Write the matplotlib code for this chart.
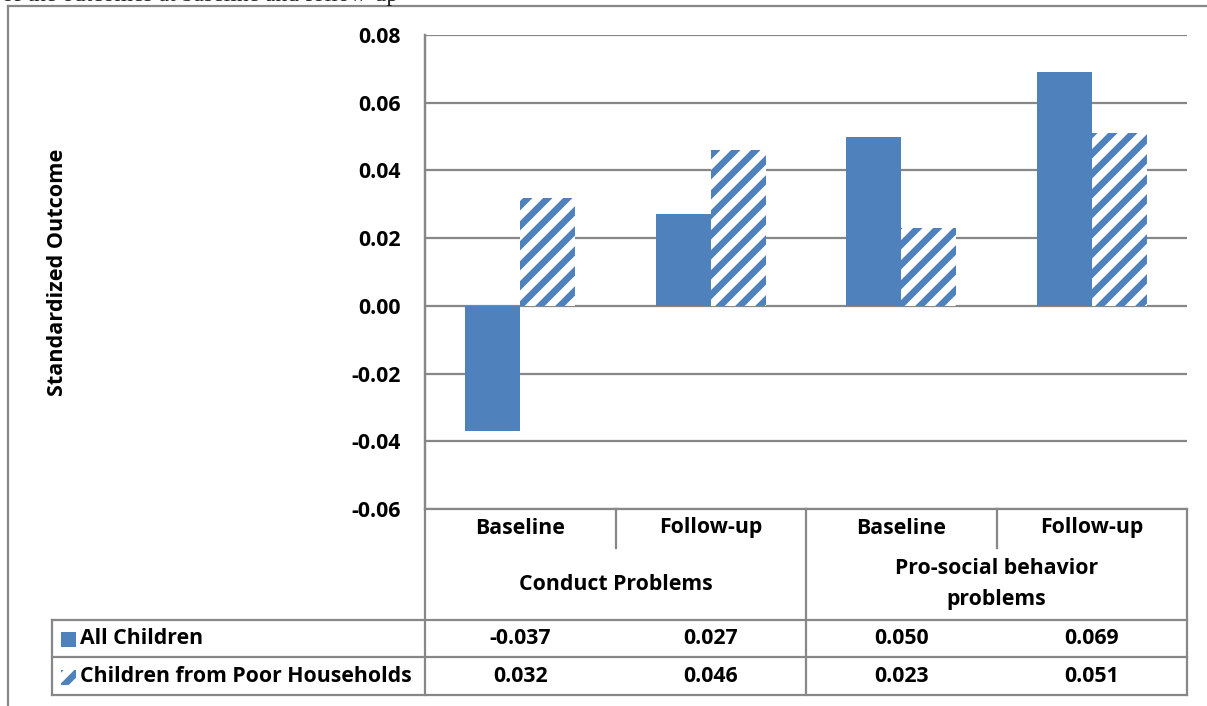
import matplotlib
matplotlib.use("Agg")
import matplotlib.pyplot as plt
from matplotlib.lines import Line2D
from matplotlib.patches import Rectangle
from matplotlib.collections import LineCollection
from matplotlib.transforms import blended_transform_factory, IdentityTransform
import numpy as np

# ---- data ----
periods = ["Baseline", "Follow-up", "Baseline", "Follow-up"]
outcome_groups = ["Conduct Problems", "Pro-social behavior\nproblems"]
series_names = ["All Children", "Children from Poor Households"]
all_children = [-0.037, 0.027, 0.050, 0.069]
poor_households = [0.032, 0.046, 0.023, 0.051]
y_ticks = [-0.06, -0.04, -0.02, 0.00, 0.02, 0.04, 0.06, 0.08]

BLUE = "#4F81BD"
GRID = "#878787"
W, H = 1207, 706

plt.rcParams["font.family"] = ["Open Sans", "DejaVu Sans"]
plt.rcParams["font.weight"] = "bold"

fig = plt.figure(figsize=(W / 100, H / 100), dpi=100)


def fx(px):
    return px / W


def fy(py):
    return 1 - py / H


def stripe(patch, parent, period=20.0, lw=4.8, phase=0.0):
    """Diagonal '/' stripes drawn inside a patch, in screen pixels."""
    bb = patch.get_window_extent(renderer=None)
    x0, y0, x1, y1 = bb.x0, bb.y0, bb.x1, bb.y1
    h = y1 - y0
    start = x0 - h - ((x0 - h - phase) % period)
    segs = []
    c = start
    while c <= x1 + period:
        segs.append([(c - lw, y0 - lw), (c + h + lw, y1 + lw)])
        c += period
    lc = LineCollection(segs, colors=BLUE, linewidths=lw, capstyle="butt",
                        transform=IdentityTransform(), zorder=patch.get_zorder() + 0.1)
    if parent is fig:
        fig.add_artist(lc)
    else:
        parent.add_collection(lc, autolim=False)
    # clip after adding, so the container does not replace the clip region
    lc.set_clip_path(patch)


fs = 15.3

# plot area
left, right, top, bottom = 425, 1187, 35, 509
ax = fig.add_axes([fx(left), fy(bottom), fx(right - left), (bottom - top) / H])
x = np.arange(len(periods))
bw = 0.29
ax.bar(x - bw / 2, all_children, bw, color=BLUE, zorder=3)
hatched = ax.bar(x + bw / 2, poor_households, bw, facecolor="white",
                 edgecolor="none", linewidth=0, zorder=3)
ax.set_xlim(-0.5, len(periods) - 0.5)
ax.set_ylim(y_ticks[0], y_ticks[-1])
ax.set_yticks(y_ticks)
ax.set_yticklabels([f"{t:.2f}" for t in y_ticks], fontsize=fs, fontweight="bold")
ax.tick_params(axis="y", length=0, pad=17.5)
ax.set_xticks([])
ax.grid(axis="y", color=GRID, linewidth=1.6, zorder=0)
for s in ("top", "right", "bottom"):
    ax.spines[s].set_visible(False)
ax.spines["left"].set_color(GRID)
ax.spines["left"].set_linewidth(1.6)

for p in hatched.patches:
    stripe(p, ax)

fig.text(fx(58), fy(272), "Standardized Outcome", rotation=90, ha="center",
         va="center", fontsize=15.6, fontweight="bold")

# ---- data table beneath the plot ----
bt = blended_transform_factory(ax.transData, fig.transFigure)
row_sub = 548
row_series1 = 620
row_series2 = 657
row_end = 695
leg_left = 52


def hline(x0, x1, py, trans=fig.transFigure):
    fig.add_artist(Line2D([x0, x1], [fy(py), fy(py)], transform=trans,
                          color=GRID, linewidth=1.6))


def vline(xv, py0, py1, trans=fig.transFigure):
    fig.add_artist(Line2D([xv, xv], [fy(py0), fy(py1)], transform=trans,
                          color=GRID, linewidth=1.6))


# horizontal rules
hline(fx(left), fx(right), bottom)
hline(fx(leg_left), fx(right), row_series1)
hline(fx(leg_left), fx(right), row_series2)
hline(fx(leg_left), fx(right), row_end)
# vertical rules
vline(fx(left), top, row_end)
vline(fx(leg_left), row_series1, row_end)
n = len(periods)
for i in range(1, n):
    b = i - 0.5
    if i % 2 == 0:
        vline(b, bottom, row_end, trans=bt)
    else:
        vline(b, bottom, row_sub, trans=bt)
vline(n - 0.5, bottom, row_end, trans=bt)

for i, p in enumerate(periods):
    fig.text(i, fy(528), p, transform=bt, ha="center", va="center",
             fontsize=fs, fontweight="bold")
for g, name in enumerate(outcome_groups):
    fig.text(2 * g + 0.5, fy(584), name, transform=bt, ha="center",
             va="center", fontsize=fs, fontweight="bold", linespacing=1.6)
for i in range(n):
    fig.text(i, fy(639), f"{all_children[i]:.3f}", transform=bt, ha="center",
             va="center", fontsize=fs, fontweight="bold")
    fig.text(i, fy(677), f"{poor_households[i]:.3f}", transform=bt,
             ha="center", va="center", fontsize=fs, fontweight="bold")

# legend keys
fig.add_artist(Rectangle((fx(61), fy(647)), fx(15), 15 / H, transform=fig.transFigure,
                         facecolor=BLUE, edgecolor="none"))
key2 = Rectangle((fx(61), fy(685)), fx(15), 15 / H, transform=fig.transFigure,
                 facecolor="white", edgecolor="none", zorder=2)
fig.add_artist(key2)
stripe(key2, fig, phase=4)
fig.text(fx(80), fy(639), series_names[0], ha="left", va="center", fontsize=fs,
         fontweight="bold")
fig.text(fx(80), fy(677), series_names[1], ha="left", va="center", fontsize=fs,
         fontweight="bold")

# outer frame
fig.add_artist(Line2D([fx(8), fx(8)], [fy(6), 0], transform=fig.transFigure,
                      color=GRID, linewidth=1.6))
fig.add_artist(Line2D([fx(8), 1], [fy(6), fy(6)], transform=fig.transFigure,
                      color=GRID, linewidth=1.6))

# running caption line above the frame
fig.text(fx(2), fy(1), "of the outcomes at baseline and follow-up",
         family="Liberation Serif", fontweight="normal", fontsize=17,
         ha="left", va="baseline", color="#222222")

fig.savefig("out.png", dpi=100)
